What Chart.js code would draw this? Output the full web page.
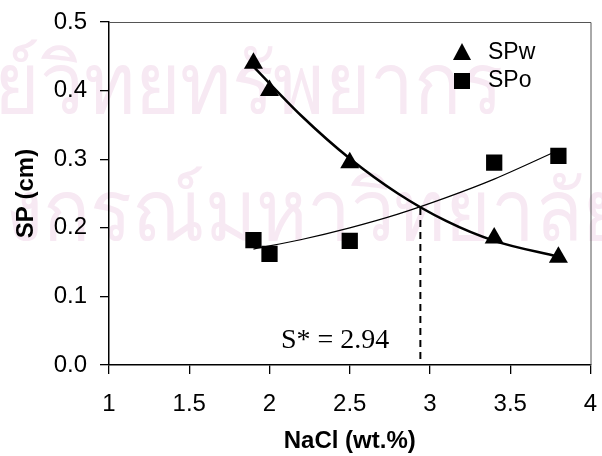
<!DOCTYPE html>
<html>
<head>
<meta charset="utf-8">
<script src="https://cdn.jsdelivr.net/npm/chart.js@4.4.0/dist/chart.umd.min.js"></script>
<style>
  html, body { margin: 0; padding: 0; background: #fff; }
  #wrap { width: 602px; height: 456px; }
</style>
</head>
<body>
<div id="wrap"><canvas id="chartSP"></canvas></div>
<script>
// measured points
const nacl = [1.9, 2.0, 2.5, 3.4, 3.8];
const spw = [0.44, 0.40, 0.295, 0.185, 0.157];
const spo = [0.182, 0.162, 0.181, 0.295, 0.305];

// trend curves
const curveX = [1.9, 2.2, 2.5, 2.8, 3.1, 3.4, 3.8];
const spwCurve = [0.435, 0.363, 0.301, 0.250, 0.210, 0.181, 0.158];
const spoCurve = [0.169, 0.183, 0.200, 0.220, 0.244, 0.271, 0.313];

// crossing point
const sStar = 2.94;
const sStarY = [0.229, 0];

const xTicks = [1, 1.5, 2, 2.5, 3, 3.5, 4];
const yTicks = [0, 0.1, 0.2, 0.3, 0.4, 0.5];

// background stamp text (partly off the page)
const watermark = ['ศูนย์วิทยทรัพยากร', 'จุฬาลงกรณ์มหาวิทยาลัย'];

const pts = (xs, ys) => xs.map((x, i) => ({ x: x, y: ys[i] }));

// pale watermark + frame + legend + label
const extras = {
  id: 'extras',
  beforeDraw(chart) {
    const ctx = chart.ctx;
    ctx.save();
    ctx.fillStyle = '#f7e9f3';
    ctx.font = '84px "Noto Sans", "DejaVu Sans", sans-serif';
    ctx.textBaseline = 'alphabetic';
    ctx.scale(0.93, 1);
    ctx.textAlign = 'left';
    const cut = ctx.measureText('ศูน').width;
    ctx.fillText(watermark[0], -6 - cut, 113);
    ctx.textAlign = 'right';
    ctx.fillText(watermark[1], 675, 240);
    ctx.restore();
  },
  afterDraw(chart) {
    const ctx = chart.ctx;
    const a = chart.chartArea;
    ctx.save();
    // top and right frame
    ctx.strokeStyle = '#555';
    ctx.lineWidth = 1;
    ctx.beginPath();
    ctx.moveTo(a.left, a.top + 0.5);
    ctx.lineTo(a.right + 0.5, a.top + 0.5);
    ctx.lineTo(a.right + 0.5, a.bottom);
    ctx.stroke();

    // legend
    ctx.fillStyle = '#000';
    const lx = 462;
    ctx.beginPath();
    ctx.moveTo(lx, 43);
    ctx.lineTo(lx + 9, 60);
    ctx.lineTo(lx - 9, 60);
    ctx.closePath();
    ctx.fill();
    ctx.fillRect(lx - 8, 73, 16, 16);
    ctx.font = '23px "Liberation Sans", Arial, sans-serif';
    ctx.textBaseline = 'middle';
    ctx.fillText('SPw', 488, 53);
    ctx.fillText('SPo', 488, 81);

    // S* label
    ctx.font = '28px "Liberation Serif", "Times New Roman", serif';
    ctx.textBaseline = 'alphabetic';
    ctx.fillText('S* = 2.94', 281, 348);
    ctx.restore();
  }
};

const canvasSP = document.getElementById('chartSP');
const configSP = {
  type: 'scatter',
  data: {
    datasets: [
      {
        label: 'SPw',
        data: pts(nacl, spw),
        pointStyle: 'triangle',
        pointRadius: 11,
        backgroundColor: '#000',
        borderColor: '#000',
        borderWidth: 0,
        order: 1,
      },
      {
        label: 'SPo',
        data: pts(nacl, spo),
        pointStyle: 'rect',
        pointRadius: 11.5,
        backgroundColor: '#000',
        borderColor: '#000',
        borderWidth: 0,
        order: 2,
      },
      {
        label: 'SPw fit',
        type: 'line',
        data: pts(curveX, spwCurve),
        borderColor: '#000',
        borderWidth: 2.5,
        pointRadius: 0,
        cubicInterpolationMode: 'monotone',
        fill: false,
        order: 3,
      },
      {
        label: 'SPo fit',
        type: 'line',
        data: pts(curveX, spoCurve),
        borderColor: '#000',
        borderWidth: 1.2,
        pointRadius: 0,
        cubicInterpolationMode: 'monotone',
        fill: false,
        order: 4,
      },
      {
        label: 'S*',
        type: 'line',
        data: pts([sStar, sStar], sStarY),
        borderColor: '#000',
        borderWidth: 2,
        borderDash: [7, 5],
        pointRadius: 0,
        fill: false,
        order: 5,
      },
    ],
  },
  options: {
    responsive: true,
    maintainAspectRatio: false,
    animation: false,
    layout: { padding: { top: 22, right: 10, left: 0, bottom: 0 } },
    plugins: {
      legend: { display: false },
      tooltip: { enabled: false },
    },
    scales: {
      x: {
        type: 'linear',
        min: 1,
        max: 4,
        afterFit: (s) => { s.height = 91; s.paddingLeft = 0; s.paddingRight = 0; },
        afterBuildTicks: (s) => { s.ticks = xTicks.map(v => ({ value: v })); },
        grid: { drawOnChartArea: false, drawTicks: true, tickLength: 9, color: '#000', lineWidth: 1.3 },
        border: { color: '#000', width: 1.5 },
        ticks: {
          color: '#000',
          padding: 16,
          font: { family: '"Liberation Sans", Arial, sans-serif', size: 24 },
          callback: (v) => String(v),
        },
        title: {
          display: true,
          text: 'NaCl (wt.%)',
          color: '#000',
          padding: { top: 0, bottom: 0 },
          font: { family: '"Liberation Sans", Arial, sans-serif', size: 24, weight: 'bold' },
        },
      },
      y: {
        min: 0,
        max: 0.5,
        afterFit: (s) => { s.width = 109; s.paddingTop = 0; s.paddingBottom = 0; },
        afterBuildTicks: (s) => { s.ticks = yTicks.map(v => ({ value: v })); },
        grid: { drawOnChartArea: false, drawTicks: true, tickLength: 9, color: '#000', lineWidth: 1.3 },
        border: { color: '#000', width: 1.5 },
        ticks: {
          color: '#000',
          padding: 13,
          font: { family: '"Liberation Sans", Arial, sans-serif', size: 24 },
          callback: (v) => Number(v).toFixed(1),
        },
        title: {
          display: true,
          text: 'SP (cm)',
          color: '#000',
          padding: { top: 12, bottom: 0 },
          font: { family: '"Liberation Sans", Arial, sans-serif', size: 24, weight: 'bold' },
        },
      },
    },
  },
  plugins: [extras],
};

const chartSP = new Chart(canvasSP, configSP);
</script>
</body>
</html>
